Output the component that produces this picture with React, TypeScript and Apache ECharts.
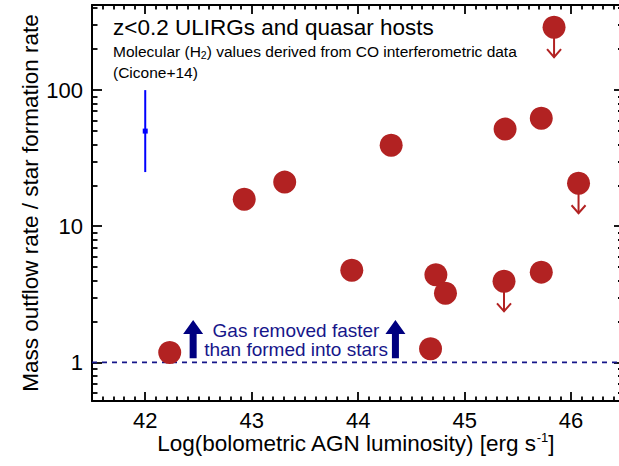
import React, { useEffect, useRef } from "react";
import * as echarts from "echarts";

// ---- data ----
const pointLum = [42.23, 42.93, 43.31, 43.94, 44.31, 44.73, 44.82, 44.68, 45.38, 45.72, 45.72];
const pointRatio = [1.18, 15.8, 21.1, 4.75, 39.4, 4.4, 3.22, 1.26, 51.7, 62.2, 4.6];
const limitLum = [45.37, 46.07, 45.84];
const limitRatio = [3.94, 20.7, 290];
const errLum = [42.0];
const errRatio = [50];
const errLow = [25];
const errHigh = [100];
const thresholdRatio = [1];
const arrowLum = [42.45, 44.35];
const arrowFrom = [1.07, 1.07];
const arrowTo = [2.05, 2.05];
const xTickLabels = [42, 43, 44, 45, 46];
const yTickLabels = [1, 10, 100];
const xMinorTicks: number[] = [];
for (let i = 416; i <= 464; i++) if (i % 10 !== 0) xMinorTicks.push(i / 10);
const yMinorTicks: number[] = [0.6, 0.7, 0.8, 0.9, 2, 3, 4, 5, 6, 7, 8, 9, 20, 30, 40, 50, 60, 70, 80, 90, 200, 300, 400];

const X_MIN = 41.5;
const X_MAX = 46.45;
const Y_MIN = 0.52;
const Y_MAX = 422;

const FONT = "'Liberation Sans', Arial, Helvetica, sans-serif";
const RED = "#b22222";
const NAVY = "#16168a";

export default function App() {
  const ref = useRef<HTMLDivElement>(null);
  useEffect(() => {
    const chart = echarts.init(ref.current!, null, { renderer: "svg" });

    const lineOn = { show: true, onZero: false, lineStyle: { color: "#000", width: 2 } };
    const lineOff = { show: false, onZero: false };
    const tick = (vals: number[], len: number) => ({
      show: true,
      inside: true,
      length: len,
      customValues: vals,
      lineStyle: { color: "#000", width: 1.8 },
    });
    const xAx = (position: string, line: any, vals: number[], len: number) => ({
      type: "value",
      min: X_MIN,
      max: X_MAX,
      position,
      splitLine: { show: false },
      axisLine: line,
      axisTick: tick(vals, len),
      axisLabel: { show: false },
    });
    const yAx = (position: string, line: any, vals: number[], len: number) => ({
      type: "log",
      logBase: 10,
      min: Y_MIN,
      max: Y_MAX,
      position,
      splitLine: { show: false },
      axisLine: line,
      axisTick: tick(vals, len),
      axisLabel: { show: false },
    });

    const option: any = {
      animation: false,
      grid: { left: 92, top: 5, right: 0, bottom: 65 },
      xAxis: [
        {
          ...xAx("bottom", lineOn, xTickLabels, 9),
          axisLabel: {
            show: true,
            customValues: xTickLabels,
            fontSize: 22,
            color: "#000",
            fontFamily: FONT,
            margin: 8,
          },
          name: "{a|Log(bolometric AGN luminosity) [erg s}{s|-1}{a|]}",
          nameLocation: "middle",
          nameGap: 30,
          nameMoveOverlap: false,
          nameTextStyle: {
            color: "#000",
            fontFamily: FONT,
            rich: {
              a: { fontSize: 22.5, fontFamily: FONT, color: "#000" },
              s: { fontSize: 13, fontFamily: FONT, color: "#000", padding: [0, 0, 11, 0] },
            },
          },
        },
        xAx("bottom", lineOff, xMinorTicks, 4.5),
        xAx("top", lineOn, xTickLabels, 9),
        xAx("top", lineOff, xMinorTicks, 4.5),
      ],
      yAxis: [
        {
          ...yAx("left", lineOn, yTickLabels, 10),
          axisLabel: {
            show: true,
            customValues: yTickLabels,
            fontSize: 22,
            color: "#000",
            fontFamily: FONT,
            margin: 9,
          },
          name: "Mass outflow rate / star formation rate",
          nameLocation: "middle",
          nameGap: 50,
          nameMoveOverlap: false,
          nameTextStyle: { fontSize: 22.5, color: "#000", fontFamily: FONT },
        },
        yAx("left", lineOff, yMinorTicks, 5.5),
        yAx("right", lineOff, yTickLabels, 5),
        yAx("right", lineOff, yMinorTicks, 1),
      ],
      series: [
        {
          type: "line",
          data: [
            [X_MIN, thresholdRatio[0]],
            [X_MAX, thresholdRatio[0]],
          ],
          symbol: "none",
          lineStyle: { color: NAVY, width: 1.6, type: [5, 5] },
          z: 1,
        },
        {
          type: "custom",
          data: errLum.map((x, i) => [x, errRatio[i], errLow[i], errHigh[i]]),
          encode: { x: 0, y: 1 },
          renderItem: (params: any, api: any) => {
            const x = api.value(0);
            const c = api.coord([x, api.value(1)]);
            const lo = api.coord([x, api.value(2)]);
            const hi = api.coord([x, api.value(3)]);
            return {
              type: "group",
              children: [
                {
                  type: "line",
                  shape: { x1: lo[0], y1: lo[1], x2: hi[0], y2: hi[1] },
                  style: { stroke: "#0000ff", lineWidth: 2 },
                },
                {
                  type: "rect",
                  shape: { x: c[0] - 2.5, y: c[1] - 2.5, width: 5, height: 5 },
                  style: { fill: "#0000ff" },
                },
              ],
            };
          },
          z: 2,
        },
        {
          type: "custom",
          data: arrowLum.map((x, i) => [x, arrowFrom[i], arrowTo[i]]),
          encode: { x: 0, y: 1 },
          renderItem: (params: any, api: any) => {
            const x = api.value(0);
            const b = api.coord([x, api.value(1)]);
            const t = api.coord([x, api.value(2)]);
            const sw = 3.5;
            const hw = 10;
            const hh = 14;
            return {
              type: "polygon",
              shape: {
                points: [
                  [b[0] - sw, b[1]],
                  [b[0] - sw, t[1] + hh],
                  [b[0] - hw, t[1] + hh],
                  [t[0], t[1]],
                  [b[0] + hw, t[1] + hh],
                  [b[0] + sw, t[1] + hh],
                  [b[0] + sw, b[1]],
                ],
              },
              style: { fill: "#000080" },
            };
          },
          z: 2,
        },
        {
          type: "custom",
          data: limitLum.map((x, i) => [x, limitRatio[i]]),
          encode: { x: 0, y: 1 },
          renderItem: (params: any, api: any) => {
            const p = api.coord([api.value(0), api.value(1)]);
            const len = 30;
            return {
              type: "group",
              children: [
                {
                  type: "line",
                  shape: { x1: p[0], y1: p[1], x2: p[0], y2: p[1] + len },
                  style: { stroke: RED, lineWidth: 2 },
                },
                {
                  type: "polyline",
                  shape: {
                    points: [
                      [p[0] - 7, p[1] + len - 8],
                      [p[0], p[1] + len],
                      [p[0] + 7, p[1] + len - 8],
                    ],
                  },
                  style: { stroke: RED, lineWidth: 2, fill: "none" },
                },
              ],
            };
          },
          z: 2,
        },
        {
          type: "scatter",
          data: pointLum.map((x, i) => [x, pointRatio[i]]),
          symbol: "circle",
          symbolSize: 23,
          itemStyle: { color: RED, opacity: 1 },
          z: 3,
        },
        {
          type: "scatter",
          data: limitLum.map((x, i) => [x, limitRatio[i]]),
          symbol: "circle",
          symbolSize: 23,
          itemStyle: { color: RED, opacity: 1 },
          z: 3,
        },
      ],
      graphic: [
        {
          type: "text",
          x: 113,
          y: 27,
          style: {
            text: "z<0.2 ULIRGs and quasar hosts",
            fontSize: 22.5,
            fontFamily: FONT,
            fill: "#000",
            verticalAlign: "middle",
          },
          z: 10,
        },
        {
          type: "text",
          x: 113,
          y: 51,
          style: {
            text: "{a|Molecular (H}{b|2}{a|) values derived from CO interferometric data}",
            fontFamily: FONT,
            verticalAlign: "middle",
            rich: {
              a: { fontSize: 15.5, fontFamily: FONT, fill: "#000", color: "#000" },
              b: { fontSize: 10.5, fontFamily: FONT, fill: "#000", color: "#000", padding: [7, 0, 0, 0] },
            },
          },
          z: 10,
        },
        {
          type: "text",
          x: 113,
          y: 72,
          style: {
            text: "(Cicone+14)",
            fontSize: 15.5,
            fontFamily: FONT,
            fill: "#000",
            verticalAlign: "middle",
          },
          z: 10,
        },
        {
          type: "text",
          x: 296,
          y: 340,
          style: {
            text: "Gas removed faster\nthan formed into stars",
            fontSize: 19,
            lineHeight: 19,
            fontFamily: FONT,
            fill: NAVY,
            align: "center",
            verticalAlign: "middle",
          },
          z: 10,
        },
      ],
    };
    chart.setOption(option);
    return () => chart.dispose();
  }, []);
  return (
    <div
      ref={ref}
      style={{ position: "fixed", left: 0, top: 0, width: 619, height: 466, background: "#fff" }}
    />
  );
}
